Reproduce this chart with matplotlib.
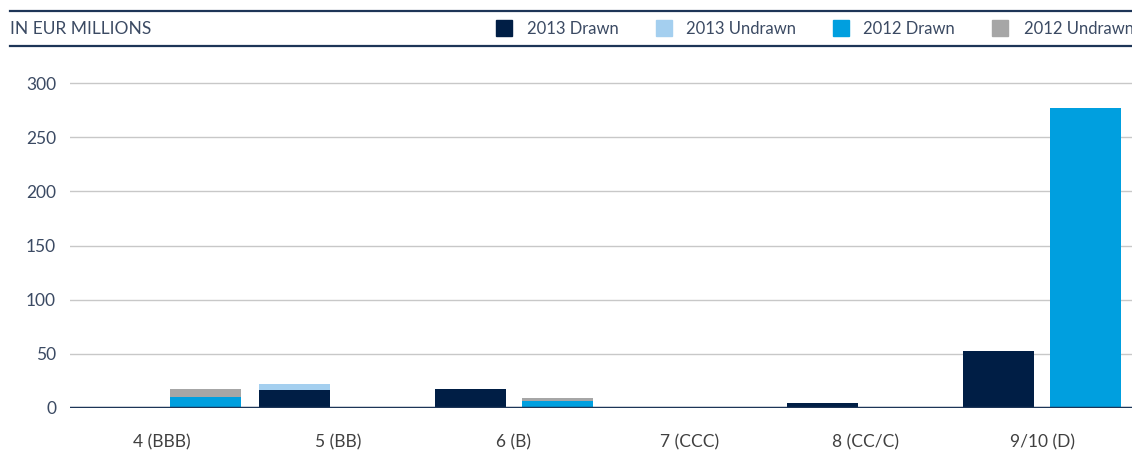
import numpy as np
import matplotlib.pyplot as plt
from matplotlib.patches import Rectangle
from matplotlib.lines import Line2D

plt.rcParams["font.family"] = ["Lato", "DejaVu Sans"]

# data (EUR millions)
categories = ["4 (BBB)", "5 (BB)", "6 (B)", "7 (CCC)", "8 (CC/C)", "9/10 (D)"]
drawn_2013 = [0, 16.5, 17.5, 0, 4.5, 52.5]
undrawn_2013 = [0, 5.5, 0, 0, 0, 0]
drawn_2012 = [10, 0, 6.5, 0, 0, 277]
undrawn_2012 = [7.5, 0, 2.5, 0, 0, 0]
series_names = ["2013 Drawn", "2013 Undrawn", "2012 Drawn", "2012 Undrawn"]
yticks = [0, 50, 100, 150, 200, 250, 300]

c_d13 = "#001e45"
c_u13 = "#a4cfef"
c_d12 = "#009fdf"
c_u12 = "#a6a6a6"
navy = "#1d3557"
txt = "#3b4a63"

W, H = 1132, 471
fig = plt.figure(figsize=(W / 100, H / 100), dpi=100)

# axes placed in pixel coords
left, right, bottom, top = 70, 1132, 408, 60
ax = fig.add_axes([left / W, (H - bottom) / H, (right - left) / W, (bottom - top) / H])

x = np.arange(len(categories))
w = 0.403
off = 0.247
ax.bar(x - off, drawn_2013, w, color=c_d13, zorder=3)
ax.bar(x - off, undrawn_2013, w, bottom=drawn_2013, color=c_u13, zorder=3)
ax.bar(x + off, drawn_2012, w, color=c_d12, zorder=3)
ax.bar(x + off, undrawn_2012, w, bottom=drawn_2012, color=c_u12, zorder=3)

ax.set_xlim((left - 162) / 176, (right - 162) / 176)
ax.set_ylim(0, (bottom - top) / (325 / 300))
ax.set_yticks(yticks)
ax.set_xticks(x)
ax.set_xticklabels(categories)
ax.yaxis.grid(True, color="#c8c8c8", linewidth=1, zorder=0)
ax.axhline(0, color=navy, linewidth=2.5, zorder=4)
for s in ax.spines.values():
    s.set_visible(False)
ax.tick_params(axis="both", length=0, labelsize=12.5)
ax.tick_params(axis="x", pad=19, labelcolor="#404040")
ax.tick_params(axis="y", pad=10, labelcolor=txt)

# header band
fig.add_artist(Line2D([10 / W, 1], [1 - 11 / H, 1 - 11 / H], color=navy, linewidth=1.6))
fig.add_artist(Line2D([10 / W, 1], [1 - 46 / H, 1 - 46 / H], color=navy, linewidth=1.6))
fig.text(10 / W, 1 - 29 / H, "IN EUR MILLIONS", color=txt, fontsize=12.5,
         va="center", ha="left")

legend_sq = [496, 656, 833, 992]
legend_tx = [527, 686, 863, 1024]
for name, col, sx, tx in zip(series_names, [c_d13, c_u13, c_d12, c_u12], legend_sq, legend_tx):
    fig.add_artist(Rectangle((sx / W, 1 - 36 / H), 16 / W, 16 / H, color=col,
                             transform=fig.transFigure))
    fig.text(tx / W, 1 - 29 / H, name, color=txt, fontsize=12,
             va="center", ha="left")

plt.savefig("out.png", dpi=100)
